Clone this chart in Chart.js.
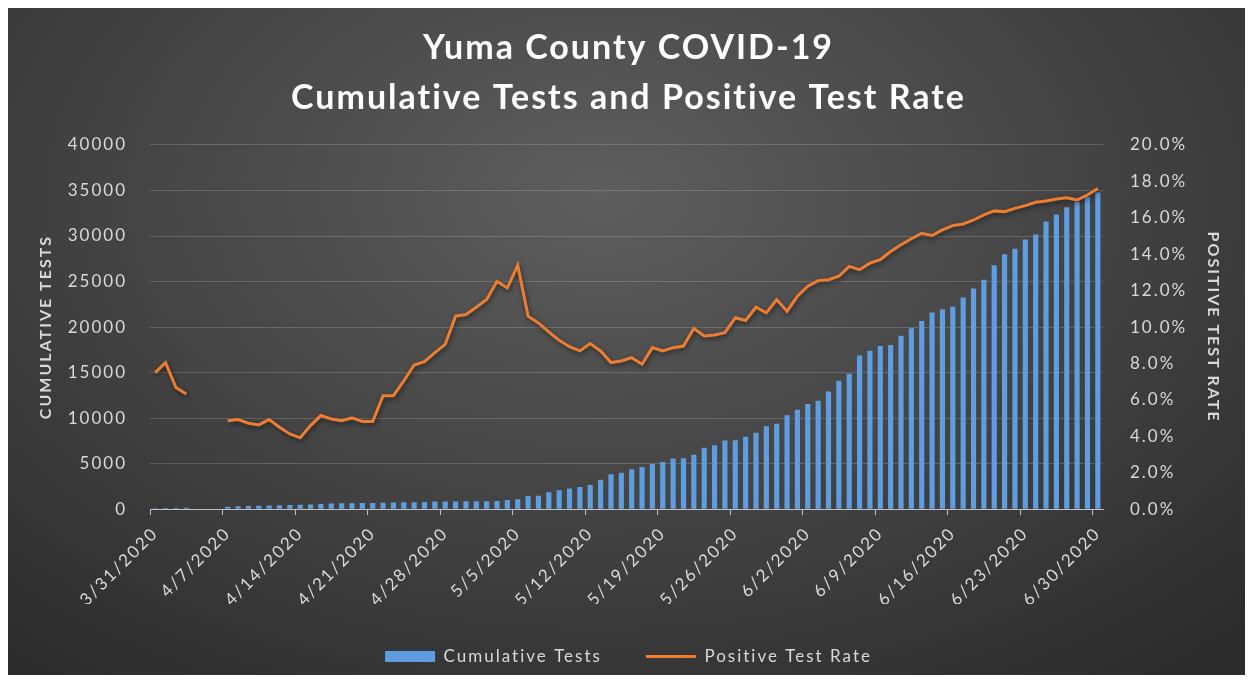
<!DOCTYPE html>
<html>
<head>
<meta charset="utf-8">
<title>Yuma County COVID-19</title>
<script src="https://cdn.jsdelivr.net/npm/chart.js@4.4.0/dist/chart.umd.min.js"></script>
<style>
  html, body { margin: 0; padding: 0; background: #fff; }
  #wrap {
    position: absolute; left: 8px; top: 8px; width: 1237px; height: 667px;
    background: radial-gradient(ellipse 75% 90% at 48% 28%, #5e5e5e 0%, #474747 45%, #2c2c2c 100%);
  }
  canvas { display: block; }
</style>
</head>
<body>
<div id="wrap"><canvas id="chart" width="1237" height="667"></canvas></div>
<script>
// daily categories, 3/31 to 6/30
const dates = [
  '3/31/2020', '4/1/2020', '4/2/2020', '4/3/2020', '4/4/2020', '4/5/2020', '4/6/2020',
  '4/7/2020', '4/8/2020', '4/9/2020', '4/10/2020', '4/11/2020', '4/12/2020', '4/13/2020',
  '4/14/2020', '4/15/2020', '4/16/2020', '4/17/2020', '4/18/2020', '4/19/2020', '4/20/2020',
  '4/21/2020', '4/22/2020', '4/23/2020', '4/24/2020', '4/25/2020', '4/26/2020', '4/27/2020',
  '4/28/2020', '4/29/2020', '4/30/2020', '5/1/2020', '5/2/2020', '5/3/2020', '5/4/2020',
  '5/5/2020', '5/6/2020', '5/7/2020', '5/8/2020', '5/9/2020', '5/10/2020', '5/11/2020',
  '5/12/2020', '5/13/2020', '5/14/2020', '5/15/2020', '5/16/2020', '5/17/2020', '5/18/2020',
  '5/19/2020', '5/20/2020', '5/21/2020', '5/22/2020', '5/23/2020', '5/24/2020', '5/25/2020',
  '5/26/2020', '5/27/2020', '5/28/2020', '5/29/2020', '5/30/2020', '5/31/2020', '6/1/2020',
  '6/2/2020', '6/3/2020', '6/4/2020', '6/5/2020', '6/6/2020', '6/7/2020', '6/8/2020',
  '6/9/2020', '6/10/2020', '6/11/2020', '6/12/2020', '6/13/2020', '6/14/2020', '6/15/2020',
  '6/16/2020', '6/17/2020', '6/18/2020', '6/19/2020', '6/20/2020', '6/21/2020', '6/22/2020',
  '6/23/2020', '6/24/2020', '6/25/2020', '6/26/2020', '6/27/2020', '6/28/2020', '6/29/2020',
  '6/30/2020'
];

const cumulativeTests = [
  110, 130, 140, 150, null, null, null,
  270, 310, 350, 380, 400, 420, 450,
  480, 520, 570, 620, 650, 660, 680,
  690, 710, 730, 750, 770, 800, 830,
  840, 850, 860, 870, 880, 890, 1000,
  1090, 1460, 1480, 1860, 2080, 2280, 2440,
  2660, 3220, 3830, 4010, 4390, 4620, 5000,
  5190, 5570, 5580, 5970, 6740, 7010, 7550,
  7580, 7950, 8380, 9110, 9370, 10310, 10930,
  11550, 11910, 12930, 14100, 14870, 16870, 17410,
  17930, 18040, 19050, 19860, 20660, 21610, 21970,
  22220, 23250, 24230, 25210, 26800, 28000, 28600,
  29620, 30170, 31590, 32350, 33150, 33750, 34250,
  34790
];

// percent
const positiveRate = [
  7.5, 8.05, 6.68, 6.32, null, null, null,
  4.86, 4.92, 4.72, 4.63, 4.92, 4.5, 4.13,
  3.92, 4.59, 5.14, 4.95, 4.86, 5.01, 4.82,
  4.82, 6.23, 6.23, 7.05, 7.92, 8.1, 8.6,
  9.05, 10.6, 10.69, 11.09, 11.51, 12.51, 12.15,
  13.39, 10.6, 10.23, 9.74, 9.27, 8.92, 8.69,
  9.09, 8.69, 8.05, 8.14, 8.32, 7.96, 8.87,
  8.69, 8.87, 8.96, 9.93, 9.51, 9.56, 9.69,
  10.51, 10.36, 11.09, 10.78, 11.51, 10.87, 11.69,
  12.24, 12.55, 12.6, 12.79, 13.33, 13.15, 13.51,
  13.7, 14.15, 14.52, 14.85, 15.15, 15.03, 15.34,
  15.57, 15.66, 15.88, 16.16, 16.38, 16.34, 16.52,
  16.67, 16.85, 16.92, 17.03, 17.1, 16.98, 17.25,
  17.61
];

const testTicks = [0, 5000, 10000, 15000, 20000, 25000, 30000, 35000, 40000];
const rateTicks = [0, 2, 4, 6, 8, 10, 12, 14, 16, 18, 20];

const textColor = '#d9d9d9';
Chart.defaults.font.family = 'Lato, "Open Sans", sans-serif';
Chart.defaults.color = textColor;

// the original's text is set wide, so space the letters a little
const wideText = {
    id: 'wideText',
    beforeUpdate(chart) { chart.ctx.letterSpacing = '2px'; },
    beforeDraw(chart) { chart.ctx.letterSpacing = '2px'; }
};

// soft drop shadow under the rate line
const lineShadow = {
    id: 'lineShadow',
    beforeDatasetDraw(chart, args) {
        if (args.meta.type !== 'line') return;
        const ctx = chart.ctx;
        ctx.save();
        ctx.shadowColor = 'rgba(0, 0, 0, 0.55)';
        ctx.shadowBlur = 5;
        ctx.shadowOffsetX = 1;
        ctx.shadowOffsetY = 2;
    },
    afterDatasetDraw(chart, args) {
        if (args.meta.type !== 'line') return;
        chart.ctx.restore();
    }
};

const ctx = document.getElementById('chart').getContext('2d');

new Chart(ctx, {
    type: 'bar',
    data: {
        labels: dates,
        datasets: [
            {
                type: 'bar',
                label: 'Cumulative Tests',
                data: cumulativeTests,
                backgroundColor: '#5d9de0',
                borderWidth: 0,
                barPercentage: 0.5,
                categoryPercentage: 1.0,
                pointStyle: 'rect',
                yAxisID: 'y',
                order: 2
            },
            {
                type: 'line',
                label: 'Positive Test Rate',
                data: positiveRate,
                borderColor: '#ed7d31',
                backgroundColor: '#ed7d31',
                borderWidth: 3,
                pointRadius: 0,
                pointStyle: 'line',
                tension: 0,
                spanGaps: false,
                yAxisID: 'y1',
                order: 1
            }
        ]
    },
    options: {
        responsive: false,
        animation: false,
        layout: { padding: { left: 12, right: 8, top: 4, bottom: 0 } },
        plugins: {
            title: {
                display: true,
                text: ['Yuma County COVID-19', 'Cumulative Tests and Positive Test Rate'],
                color: '#ffffff',
                font: { size: 34, weight: 'bold', lineHeight: 1.47 },
                padding: { top: 11, bottom: 22 }
            },
            legend: {
                position: 'bottom',
                labels: {
                    color: textColor,
                    font: { size: 17 },
                    usePointStyle: true,
                    pointStyleWidth: 50,
                    boxHeight: 11,
                    padding: 44,
                    sort: (a, b) => a.datasetIndex - b.datasetIndex
                }
            },
            tooltip: { enabled: false }
        },
        scales: {
            x: {
                afterFit: axis => { axis.height -= 14; },
                grid: {
                    drawOnChartArea: false,
                    offset: true,
                    tickLength: 6,
                    color: c => (c.index % 7 === 0 ? '#bfbfbf' : 'rgba(0,0,0,0)')
                },
                border: { color: '#bfbfbf', width: 1 },
                ticks: {
                    autoSkip: false,
                    maxRotation: 45,
                    minRotation: 45,
                    padding: 8,
                    font: { size: 17 },
                    callback: function(value, index) {
                        return index % 7 === 0 ? this.getLabelForValue(value) : '';
                    }
                }
            },
            y: {
                position: 'left',
                min: 0,
                max: 40000,
                afterBuildTicks: axis => { axis.ticks = testTicks.map(v => ({ value: v })); },
                afterFit: axis => { axis.width = 130; },
                grid: { color: 'rgba(255, 255, 255, 0.17)', drawTicks: false },
                border: { display: false },
                ticks: { padding: 23, font: { size: 17 }, callback: v => String(v) },
                title: {
                    display: true,
                    text: 'CUMULATIVE TESTS',
                    color: textColor,
                    font: { size: 16, weight: 'bold' },
                    padding: { top: 16, bottom: 10 }
                }
            },
            y1: {
                position: 'right',
                min: 0,
                max: 20,
                afterBuildTicks: axis => { axis.ticks = rateTicks.map(v => ({ value: v })); },
                afterFit: axis => { axis.width = 134; },
                grid: { drawOnChartArea: false, drawTicks: false },
                border: { display: false },
                ticks: {
                    padding: 27,
                    font: { size: 17 },
                    callback: v => v.toFixed(1) + '%'
                },
                title: {
                    display: true,
                    text: 'POSITIVE TEST RATE',
                    color: textColor,
                    font: { size: 16, weight: 'bold' },
                    padding: { top: 14, bottom: 20 }
                }
            }
        }
    },
    plugins: [wideText, lineShadow]
});
</script>
</body>
</html>
